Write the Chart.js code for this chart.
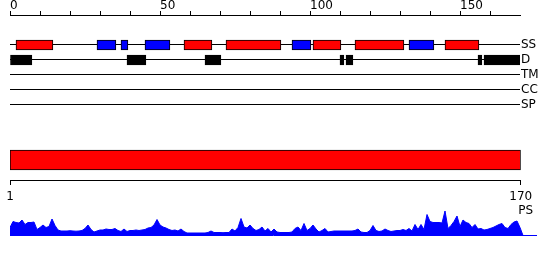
<!DOCTYPE html>
<html>
<head>
<meta charset="utf-8">
<script src="https://cdn.jsdelivr.net/npm/chart.js@4.4.0/dist/chart.umd.min.js"></script>
<style>
  body { margin: 0; background: #fff; }
  .wrap { position: relative; width: 550px; height: 260px; }
  canvas { position: absolute; left: 0; }
  #tracks { top: 0; }
  #domain { top: 140px; }
  #ps { top: 200px; }
</style>
</head>
<body>
<div class="wrap">
  <canvas id="tracks" width="550" height="115"></canvas>
  <canvas id="domain" width="550" height="70"></canvas>
  <canvas id="ps" width="550" height="40"></canvas>
</div>
<script>
// track rows, top to bottom
const trackNames = ["SS", "D", "TM", "CC", "SP"];
// secondary structure segments (start, end)
const helix = [[2, 14.3], [58, 67.3], [72, 90.3], [101, 110.3], [115, 131.3], [145, 156.3]];
const strand = [[29, 35.3], [37, 39.3], [45, 53.3], [94, 100.3], [133, 141.3]];
// disordered regions
const disorder = [[0, 7.3], [39, 45.3], [65, 70.3], [110, 111.3], [112, 114.3], [156, 157.3], [158, 170.3]];
const topTicks = [0, 10, 20, 30, 40, 50, 60, 70, 80, 90, 100, 110, 120, 130, 140, 150, 160];
const topLabelEvery = 50;

// whole-sequence domain bar
const domain = [1, 170];
const domainTicks = [1, 170];

// PS profile, one value per residue
const psValues = [
  8, 14, 13, 12.5, 15.5, 11, 13, 13, 13.5, 6,
  8, 10.5, 8, 9, 16.5, 10, 5.5, 4.5, 4.5, 4.5,
  4.8, 4.5, 4.3, 4.5, 5, 7, 10.5, 6, 3.5, 4.5,
  5.5, 5.5, 6.5, 6, 6, 7, 5, 4, 6.5, 4,
  5, 5, 5.5, 5, 5.5, 6, 7.5, 8, 10.5, 16,
  10.5, 8.5, 7.5, 6, 5, 5.5, 4.5, 6.5, 4, 2.5,
  2.5, 2.5, 2.5, 2.5, 2.5, 2.5, 3, 4.5, 3, 3,
  3, 2.8, 3, 3, 6.5, 4.5, 8, 17, 8.5, 7.5,
  10.5, 7, 5, 6, 8.5, 4.5, 7, 3.5, 6.5, 3.5,
  3, 3, 3, 3, 3.5, 7, 8.5, 5, 12, 5,
  7, 10.5, 6.5, 3.5, 5, 7, 3.5, 4, 4.5, 4.5,
  4.5, 4.5, 4.5, 4.5, 4.5, 5, 6.5, 3.5, 3, 3,
  5, 10, 5, 4, 4.5, 6.5, 5, 4, 4.5, 5,
  5, 6, 5, 7, 4.5, 11, 6, 11, 6, 21,
  14, 13, 13, 13, 12.5, 24.5, 7, 10, 14, 19.5,
  9, 15.5, 13, 12, 8, 11, 6.5, 7, 5.5, 6,
  7, 8, 9.5, 11, 12, 8, 7, 11, 13.5, 14.5,
  8, 0
];
const psLabel = "PS";
const psMax = 25;

Chart.defaults.font.family = "'DejaVu Sans', sans-serif";
Chart.defaults.font.size = 12;
Chart.defaults.color = "#000";
Chart.defaults.animation = false;
Chart.defaults.events = [];
Chart.defaults.plugins.legend.display = false;
Chart.defaults.plugins.tooltip.enabled = false;

const segs = (list, row) => list.map((s) => ({ y: row, x: s }));
const boxStyle = (color) => ({
  backgroundColor: color,
  borderColor: "#000",
  borderWidth: 1,
  borderSkipped: false,
  barThickness: 10,
  grouped: false,
});
// vertical axes here carry labels well inside the plot, so drop the label padding
const noLabelPadding = (axis) => {
  axis.paddingTop = 0;
  axis.paddingBottom = 0;
};

new Chart(document.getElementById("tracks"), {
  type: "bar",
  data: {
    datasets: [
      { data: segs(helix, 0), ...boxStyle("#ff0000") },
      { data: segs(strand, 0), ...boxStyle("#0000ff") },
      { data: segs(disorder, 1), ...boxStyle("#000") },
    ],
  },
  options: {
    indexAxis: "y",
    responsive: false,
    layout: { padding: { left: 10, right: 0, top: 0, bottom: 0 } },
    scales: {
      x: {
        type: "linear",
        position: "top",
        min: 0,
        max: 170,
        afterBuildTicks: (axis) => {
          axis.ticks = topTicks.map((v) => ({ value: v }));
        },
        afterFit: (axis) => {
          axis.height = 15;
        },
        ticks: {
          align: "start",
          padding: -1,
          font: { lineHeight: 1 },
          callback: (v) => (v % topLabelEvery === 0 ? String(v) : ""),
        },
        grid: { drawOnChartArea: false, color: "#000", tickLength: 4 },
        border: { color: "#000" },
      },
      y: {
        type: "linear",
        position: "right",
        reverse: true,
        offset: false,
        min: -2,
        max: 4.667,
        afterBuildTicks: (axis) => {
          axis.ticks = trackNames.map((n, i) => ({ value: i }));
        },
        afterFit: (axis) => {
          axis.width = 30;
          noLabelPadding(axis);
        },
        ticks: { padding: 1, callback: (v) => trackNames[v] },
        grid: { offset: false, color: "#000", drawTicks: false },
        border: { display: false },
      },
    },
  },
});

new Chart(document.getElementById("domain"), {
  type: "bar",
  data: {
    labels: [""],
    datasets: [{ data: [domain], ...boxStyle("#ff0000"), barThickness: 20 }],
  },
  options: {
    indexAxis: "y",
    responsive: false,
    layout: { padding: { left: 10, right: 29.3, top: 0, bottom: 0 } },
    scales: {
      x: {
        type: "linear",
        position: "bottom",
        min: domain[0],
        max: domain[1],
        afterBuildTicks: (axis) => {
          axis.ticks = domainTicks.map((v) => ({ value: v }));
        },
        afterFit: (axis) => {
          axis.height = 30;
        },
        ticks: { padding: 5 },
        grid: { drawOnChartArea: false, color: "#000", tickLength: 5 },
        border: { color: "#000" },
      },
      y: { display: false },
    },
  },
});

new Chart(document.getElementById("ps"), {
  type: "line",
  data: {
    datasets: [{
      data: psValues.map((v, i) => ({ x: i + 1, y: v })),
      borderColor: "#0000ff",
      backgroundColor: "#0000ff",
      borderWidth: 1,
      fill: "origin",
      pointRadius: 0,
      tension: 0,
    }],
  },
  options: {
    responsive: false,
    layout: { padding: { left: 10, right: 14, top: 10.5, bottom: 4.5 } },
    scales: {
      x: {
        type: "linear",
        min: 1,
        max: 176.33,
        afterFit: (axis) => {
          axis.height = 0;
        },
        ticks: { display: false },
        grid: { drawOnChartArea: false, drawTicks: false },
        border: { color: "#0000ff" },
      },
      y: {
        type: "linear",
        position: "right",
        min: 0,
        max: psMax,
        afterBuildTicks: (axis) => {
          axis.ticks = [{ value: psMax }];
        },
        afterFit: (axis) => {
          axis.width = 0;
          noLabelPadding(axis);
        },
        ticks: { mirror: true, padding: -3, callback: () => psLabel },
        grid: { display: false, drawTicks: false },
        border: { display: false },
      },
    },
  },
});
</script>
</body>
</html>
